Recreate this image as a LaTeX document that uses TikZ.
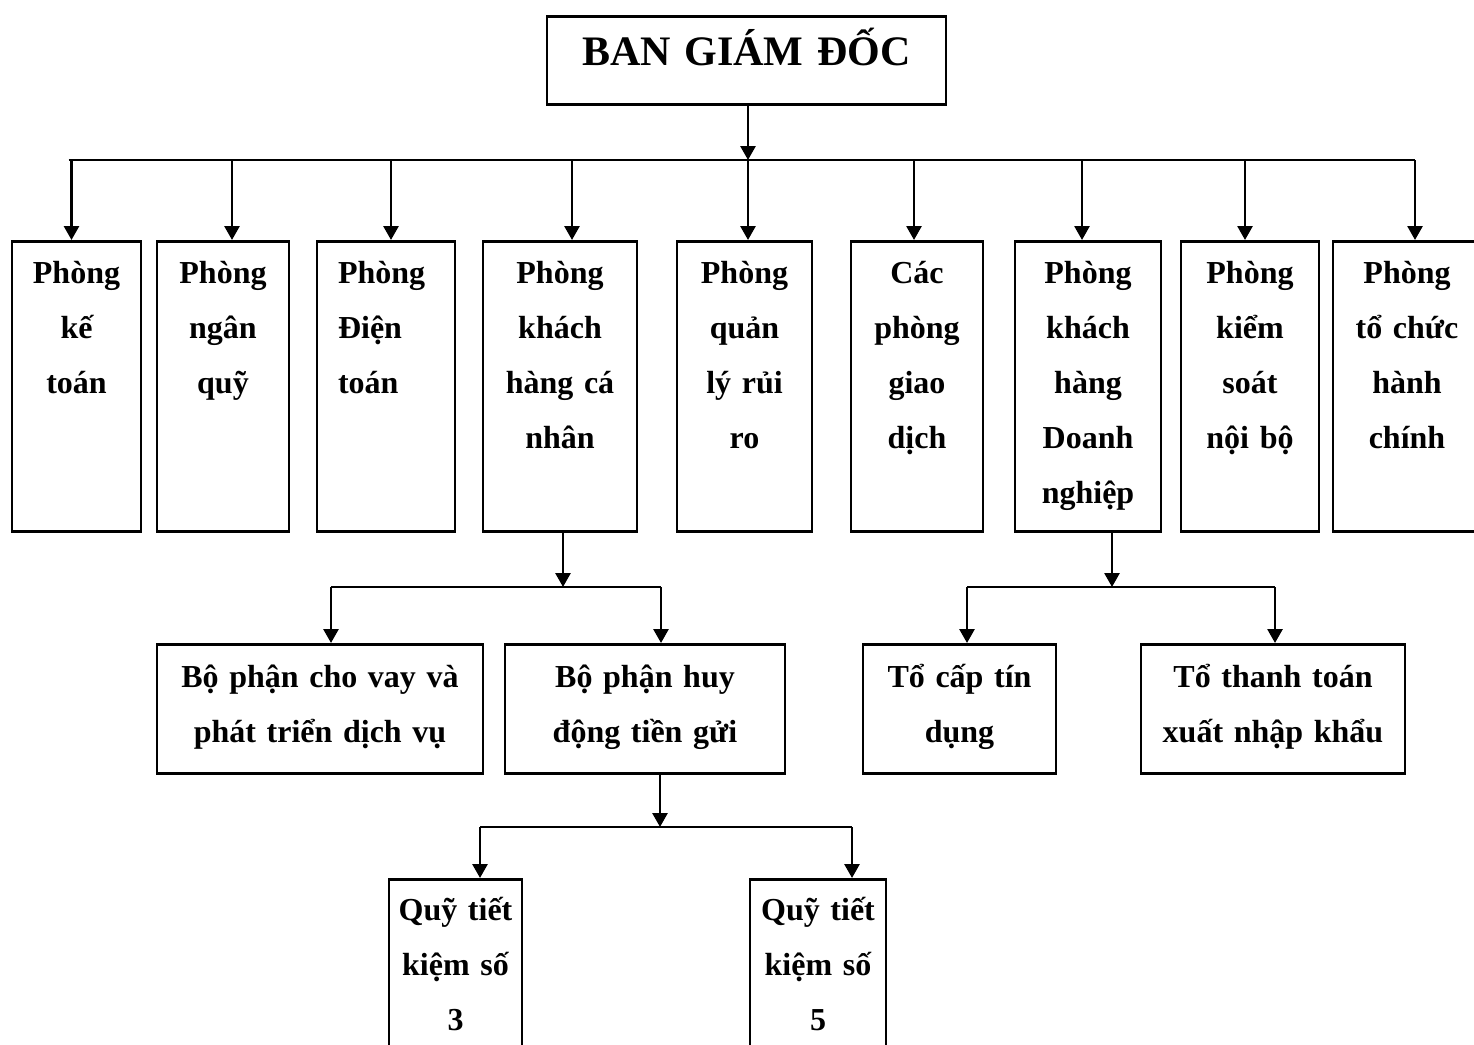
\documentclass[tikz,border=0pt]{standalone}
\usepackage{fontspec}
\setmainfont{Liberation Serif}
\usetikzlibrary{arrows.meta}

\begin{document}
\begin{tikzpicture}[
            x=1pt, y=-1pt,
            every node/.style={font=\fontsize{32}{55}\selectfont\bfseries},
            head/.style={
                rectangle,
                draw,
                line width=2.6pt,
                align=center,
                text width=399pt,
                inner xsep=0pt,
                inner ysep=0pt,
                text height=49pt,
                text depth=39pt,
                anchor=north,
                font=\fontsize{42}{50}\selectfont\bfseries
            },
            dept/.style={
                rectangle,
                draw,
                line width=2.6pt,
                align=center,
                text width=#1,
                inner xsep=0pt,
                inner ysep=0pt,
                text height=42pt,
                text depth=248pt,
                anchor=north
            },
            unit/.style={
                dept=#1,
                text height=43pt,
                text depth=86pt
            },
            fund/.style={
                dept=#1,
                text height=41pt,
                text depth=160pt
            },
            arrow/.style={-{Triangle[length=14pt, width=15pt]}, line width=2.8pt},
            bus/.style={line width=2.4pt}
        ]
        \useasboundingbox (0,0) rectangle (1474,1044);
        \clip (0,0) rectangle (1474,1044);

        % Nodes
        \node[head] (bgd) at (746.5,15) {BAN GIÁM ĐỐC};

        \node[dept=129pt] (kt) at (76.5,240) {Phòng\\kế\\toán};
        \node[dept=132pt] (nq) at (223,240) {Phòng\\ngân\\quỹ};
        \node[dept=96pt, align=left, inner xsep=21pt] (dt) at (386,240) {Phòng\\Điện\\toán};
        \node[dept=154pt] (khcn) at (560,240) {Phòng\\khách\\hàng cá\\nhân};
        \node[dept=135pt] (qlrr) at (744.5,240) {Phòng\\quản\\lý rủi\\ro};
        \node[dept=132pt] (pgd) at (917,240) {Các\\phòng\\giao\\dịch};
        \node[dept=146pt] (khdn) at (1088,240) {Phòng\\khách\\hàng\\Doanh\\nghiệp};
        \node[dept=138pt] (ksnb) at (1250,240) {Phòng\\kiểm\\soát\\nội bộ};
        \node[dept=148pt] (tchc) at (1407,240) {Phòng\\tổ chức\\hành\\chính};

        \node[unit=326pt] (chovay) at (320,643) {Bộ phận cho vay và\\phát triển dịch vụ};
        \node[unit=280pt] (huydong) at (645,643) {Bộ phận huy\\động tiền gửi};
        \node[unit=193pt] (tindung) at (959.5,643) {Tổ cấp tín\\dụng};
        \node[unit=264pt] (xnk) at (1273,643) {Tổ thanh toán\\xuất nhập khẩu};

        \node[fund=133pt] (quy3) at (455.5,878) {Quỹ tiết\\kiệm số\\3};
        \node[fund=136pt] (quy5) at (818,878) {Quỹ tiết\\kiệm số\\5};

        \coordinate (bus1) at (0,160);
        \coordinate (bus2) at (0,587);
        \coordinate (bus3) at (0,827);

        % Arrows
        \draw[arrow] ([xshift=1.5pt]bgd.south) -- ([xshift=1.5pt]bgd.south |- bus1);
        \draw[bus] ([xshift=-8pt]kt.north |- bus1) -- ([xshift=8pt]tchc.north |- bus1);

        \draw[arrow] ([xshift=-5pt]kt.north |- bus1) -- ([xshift=-5pt]kt.north);
        \draw[arrow] ([xshift=9pt]nq.north |- bus1) -- ([xshift=9pt]nq.north);
        \draw[arrow] ([xshift=5pt]dt.north |- bus1) -- ([xshift=5pt]dt.north);
        \draw[arrow] ([xshift=12pt]khcn.north |- bus1) -- ([xshift=12pt]khcn.north);
        \draw[arrow] ([xshift=3.5pt]qlrr.north |- bus1) -- ([xshift=3.5pt]qlrr.north);
        \draw[arrow] ([xshift=-3pt]pgd.north |- bus1) -- ([xshift=-3pt]pgd.north);
        \draw[arrow] ([xshift=-6pt]khdn.north |- bus1) -- ([xshift=-6pt]khdn.north);
        \draw[arrow] ([xshift=-5pt]ksnb.north |- bus1) -- ([xshift=-5pt]ksnb.north);
        \draw[arrow] ([xshift=8pt]tchc.north |- bus1) -- ([xshift=8pt]tchc.north);

        % Khach hang ca nhan
        \draw[arrow] ([xshift=3pt]khcn.south) -- ([xshift=3pt]khcn.south |- bus2);
        \draw[bus] ([xshift=11pt]chovay.north |- bus2) -- ([xshift=16pt]huydong.north |- bus2);
        \draw[arrow] ([xshift=11pt]chovay.north |- bus2) -- ([xshift=11pt]chovay.north);
        \draw[arrow] ([xshift=16pt]huydong.north |- bus2) -- ([xshift=16pt]huydong.north);

        % Khach hang doanh nghiep
        \draw[arrow] ([xshift=24pt]khdn.south) -- ([xshift=24pt]khdn.south |- bus2);
        \draw[bus] ([xshift=7.5pt]tindung.north |- bus2) -- ([xshift=2pt]xnk.north |- bus2);
        \draw[arrow] ([xshift=7.5pt]tindung.north |- bus2) -- ([xshift=7.5pt]tindung.north);
        \draw[arrow] ([xshift=2pt]xnk.north |- bus2) -- ([xshift=2pt]xnk.north);

        % Huy dong tien gui
        \draw[arrow] ([xshift=15pt]huydong.south) -- ([xshift=15pt]huydong.south |- bus3);
        \draw[bus] ([xshift=24.5pt]quy3.north |- bus3) -- ([xshift=34pt]quy5.north |- bus3);
        \draw[arrow] ([xshift=24.5pt]quy3.north |- bus3) -- ([xshift=24.5pt]quy3.north);
        \draw[arrow] ([xshift=34pt]quy5.north |- bus3) -- ([xshift=34pt]quy5.north);

        \end{tikzpicture}
\end{document}
